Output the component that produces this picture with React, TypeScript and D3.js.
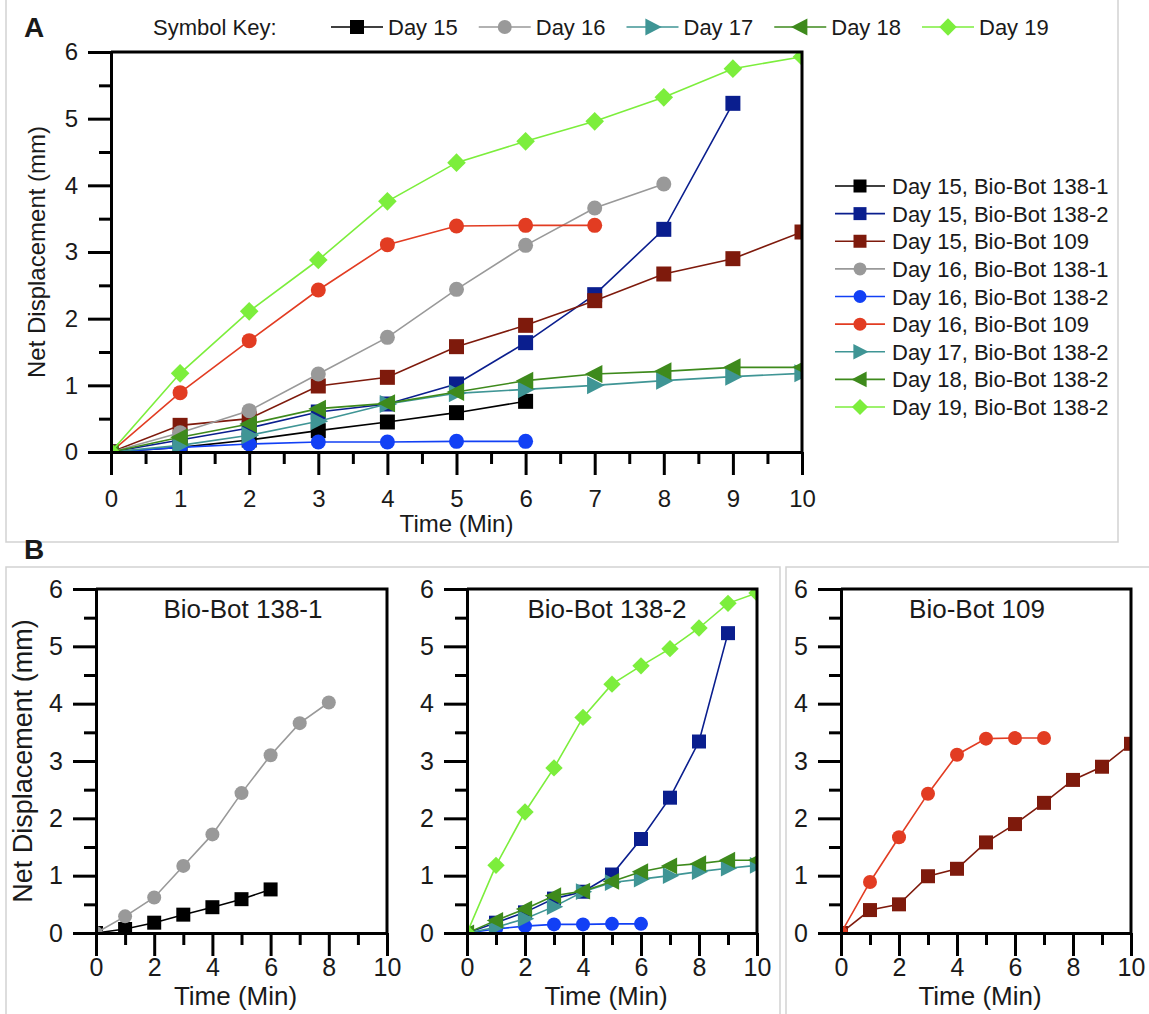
import { useRef, useEffect } from 'react';
import * as d3 from 'd3';

const W = 1149;
const H = 1014;
const FONT = '"Liberation Sans", Arial, Helvetica, sans-serif';
const INK = '#1a1a1a';

// time points (min)
const minutes = [0, 1, 2, 3, 4, 5, 6, 7, 8, 9, 10];

// net displacement (mm)
const day15Bot1381 = [0, 0.07, 0.18, 0.32, 0.45, 0.59, 0.76];
const day15Bot1382 = [0, 0.18, 0.36, 0.6, 0.72, 1.02, 1.64, 2.36, 3.34, 5.23];
const day15Bot109 = [0, 0.4, 0.5, 0.99, 1.12, 1.58, 1.9, 2.27, 2.67, 2.9, 3.3];
const day16Bot1381 = [0, 0.29, 0.62, 1.17, 1.72, 2.44, 3.1, 3.66, 4.02];
const day16Bot1382 = [0, 0.07, 0.12, 0.15, 0.15, 0.16, 0.16];
const day16Bot109 = [0, 0.89, 1.67, 2.43, 3.11, 3.39, 3.4, 3.4];
const day17Bot1382 = [0, 0.1, 0.25, 0.46, 0.72, 0.88, 0.94, 1.0, 1.07, 1.13, 1.18];
const day18Bot1382 = [0, 0.22, 0.42, 0.65, 0.73, 0.9, 1.07, 1.17, 1.21, 1.27, 1.27];
const day19Bot1382 = [0, 1.18, 2.11, 2.88, 3.76, 4.34, 4.66, 4.96, 5.32, 5.75, 5.93];

const days = ['Day 15', 'Day 16', 'Day 17', 'Day 18', 'Day 19'];
const dayColors = ['#000000', '#999999', '#3f9595', '#3e8a1c', '#7cee3c'];
const dayShapes = ['square', 'circle', 'triRight', 'triLeft', 'diamond'];

const series = [
    { label: 'Day 15, Bio-Bot 138-1', values: day15Bot1381, color: '#000000', shape: 'square', bot: '138-1' },
    { label: 'Day 15, Bio-Bot 138-2', values: day15Bot1382, color: '#0a1e8e', shape: 'square', bot: '138-2' },
    { label: 'Day 15, Bio-Bot 109', values: day15Bot109, color: '#7e1a0c', shape: 'square', bot: '109' },
    { label: 'Day 16, Bio-Bot 138-1', values: day16Bot1381, color: '#999999', shape: 'circle', bot: '138-1' },
    { label: 'Day 16, Bio-Bot 138-2', values: day16Bot1382, color: '#1240f5', shape: 'circle', bot: '138-2' },
    { label: 'Day 16, Bio-Bot 109', values: day16Bot109, color: '#e23c22', shape: 'circle', bot: '109' },
    { label: 'Day 17, Bio-Bot 138-2', values: day17Bot1382, color: '#3f9595', shape: 'triRight', bot: '138-2' },
    { label: 'Day 18, Bio-Bot 138-2', values: day18Bot1382, color: '#3e8a1c', shape: 'triLeft', bot: '138-2' },
    { label: 'Day 19, Bio-Bot 138-2', values: day19Bot1382, color: '#7cee3c', shape: 'diamond', bot: '138-2' },
];

const panelsB = [
    { bot: '138-1', title: 'Bio-Bot 138-1', left: 96, right: 387, titleX: 243, yLabel: true },
    { bot: '138-2', title: 'Bio-Bot 138-2', left: 467, right: 757, titleX: 607, yLabel: false },
    { bot: '109', title: 'Bio-Bot 109', left: 841, right: 1131, titleX: 977, yLabel: false },
];

const markerPath = (shape, s) => {
    const h = s / 2;
    if (shape === 'square') return `M${-h},${-h}h${s}v${s}h${-s}Z`;
    if (shape === 'circle') return d3.symbol(d3.symbolCircle, Math.PI * h * h)();
    if (shape === 'diamond') {
        const r = s * 0.62;
        return `M0,${-r}L${r},0L0,${r}L${-r},0Z`;
    }
    // triangles drawn a bit larger, as in the original
    const t = h * 1.2;
    if (shape === 'triRight') return `M${-t * 0.85},${-t}L${t * 1.1},0L${-t * 0.85},${t}Z`;
    return `M${t * 0.85},${-t}L${-t * 1.1},0L${t * 0.85},${t}Z`;
};

const drawPanel = (svg, id, p, list, opt) => {
    const x = d3.scaleLinear().domain([0, 10]).range([p.left, p.right]);
    const y = d3.scaleLinear().domain([0, 6]).range([p.bottom, p.top]);

    svg.append('clipPath').attr('id', id)
        .append('rect')
        .attr('x', p.left).attr('y', p.top)
        .attr('width', p.right - p.left).attr('height', p.bottom - p.top);

    const plot = svg.append('g').attr('clip-path', `url(#${id})`);
    const line = d3.line().x(d => x(d[0])).y(d => y(d[1]));

    list.forEach(s => {
        const pts = s.values.map((v, i) => [minutes[i], v]);
        plot.append('path')
            .attr('d', line(pts))
            .attr('fill', 'none')
            .attr('stroke', s.color)
            .attr('stroke-width', 1.6);
        plot.selectAll(null)
            .data(pts)
            .enter()
            .append('path')
            .attr('transform', d => `translate(${x(d[0])},${y(d[1])})`)
            .attr('d', markerPath(s.shape, opt.marker))
            .attr('fill', s.color);
    });

    // frame (top + right)
    svg.append('path')
        .attr('d', `M${p.left},${p.top}H${p.right}V${p.bottom}`)
        .attr('fill', 'none').attr('stroke', '#000').attr('stroke-width', 3);

    const styleAxis = g => {
        g.select('.domain').attr('stroke', '#000').attr('stroke-width', 3);
        g.selectAll('.tick line').attr('stroke', '#000').attr('stroke-width', 3);
        g.selectAll('.tick text')
            .attr('fill', INK)
            .style('font-family', FONT)
            .style('font-size', `${opt.tickFont}px`);
    };

    const xAxisMinor = svg.append('g').attr('transform', `translate(0,${p.bottom})`)
        .call(d3.axisBottom(x).tickValues(opt.xMinor).tickSize(12).tickSizeOuter(0).tickFormat(() => ''));
    styleAxis(xAxisMinor);
    const xAxis = svg.append('g').attr('transform', `translate(0,${p.bottom})`)
        .call(d3.axisBottom(x).tickValues(opt.xMajor).tickSize(23).tickSizeOuter(0).tickPadding(opt.xPad).tickFormat(d3.format('d')));
    styleAxis(xAxis);

    const yAxisMinor = svg.append('g').attr('transform', `translate(${p.left},0)`)
        .call(d3.axisLeft(y).tickValues([0.5, 1.5, 2.5, 3.5, 4.5, 5.5]).tickSize(12).tickSizeOuter(0).tickFormat(() => ''));
    styleAxis(yAxisMinor);
    const yAxis = svg.append('g').attr('transform', `translate(${p.left},0)`)
        .call(d3.axisLeft(y).tickValues([0, 1, 2, 3, 4, 5, 6]).tickSize(23).tickSizeOuter(0).tickPadding(opt.yPad).tickFormat(d3.format('d')));
    styleAxis(yAxis);

    const text = (t, xx, yy, size, anchor = 'middle', rotate = false) => {
        const el = svg.append('text')
            .attr('x', rotate ? 0 : xx).attr('y', rotate ? 0 : yy)
            .attr('text-anchor', anchor)
            .attr('fill', INK)
            .style('font-family', FONT)
            .style('font-size', `${size}px`)
            .text(t);
        if (rotate) el.attr('transform', `translate(${xx},${yy}) rotate(-90)`);
        return el;
    };

    text('Time (Min)', opt.xTitleX ?? (p.left + p.right) / 2, opt.xTitleY, opt.titleFont);
    if (opt.yTitleX) text('Net Displacement (mm)', opt.yTitleX, (p.top + p.bottom) / 2, opt.yTitleFont ?? opt.titleFont, 'middle', true);
    if (opt.title) text(opt.title, opt.titleX, p.top + 29, opt.titleFont);
};

const App = () => {
    const ref = useRef(null);

    useEffect(() => {
        if (!ref.current) return;
        const svg = d3.select(ref.current);
        svg.selectAll('*').remove();

        svg.append('rect').attr('width', W).attr('height', H).attr('fill', '#fff');

        // light panel borders
        const box = (x0, y0, x1, y1) => svg.append('rect')
            .attr('x', x0).attr('y', y0).attr('width', x1 - x0).attr('height', y1 - y0)
            .attr('fill', 'none').attr('stroke', '#d2d2d2').attr('stroke-width', 1.5);
        box(6, -2, 1118, 542);
        box(6, 567, 780, H + 2);
        box(786, 567, W + 2, H + 2);

        // panel letters
        svg.append('text').attr('x', 24).attr('y', 37).text('A')
            .style('font-family', FONT).style('font-size', '28px').style('font-weight', 'bold').attr('fill', INK);
        svg.append('text').attr('x', 24).attr('y', 559).text('B')
            .style('font-family', FONT).style('font-size', '28px').style('font-weight', 'bold').attr('fill', INK);

        // panel A
        drawPanel(svg, 'clipA', { left: 111, right: 802, top: 52, bottom: 452 }, series, {
            marker: 15, tickFont: 24, titleFont: 24,
            xMajor: minutes, xMinor: minutes.slice(0, 10).map(d => d + 0.5),
            xPad: 15, yPad: 10, xTitleY: 532, yTitleX: 45,
        });

        // symbol key
        const keyY = 27;
        svg.append('text').attr('x', 153).attr('y', keyY + 8).text('Symbol Key:')
            .style('font-family', FONT).style('font-size', '22px').attr('fill', INK);
        const keyX = d3.scalePoint().domain(days).range([331, 922]);
        days.forEach((d, i) => {
            const x0 = keyX(d);
            svg.append('line').attr('x1', x0).attr('x2', x0 + 52).attr('y1', keyY).attr('y2', keyY)
                .attr('stroke', dayColors[i]).attr('stroke-width', 1.6);
            svg.append('path').attr('transform', `translate(${x0 + 26},${keyY})`)
                .attr('d', markerPath(dayShapes[i], 14)).attr('fill', dayColors[i]);
            svg.append('text').attr('x', x0 + 57).attr('y', keyY + 8).text(d)
                .style('font-family', FONT).style('font-size', '22px').attr('fill', INK);
        });

        // series legend
        const legY = d3.scalePoint().domain(series.map(s => s.label)).range([186, 407]);
        series.forEach(s => {
            const yy = legY(s.label);
            svg.append('line').attr('x1', 835).attr('x2', 885).attr('y1', yy).attr('y2', yy)
                .attr('stroke', s.color).attr('stroke-width', 1.6);
            svg.append('path').attr('transform', `translate(860,${yy})`)
                .attr('d', markerPath(s.shape, 13)).attr('fill', s.color);
            svg.append('text').attr('x', 892).attr('y', yy + 8).text(s.label)
                .style('font-family', FONT).style('font-size', '22px').attr('fill', INK);
        });

        // panel B
        panelsB.forEach((pb, i) => {
            drawPanel(svg, `clipB${i}`, { left: pb.left, right: pb.right, top: 589, bottom: 933 },
                series.filter(s => s.bot === pb.bot), {
                    marker: 14, tickFont: 25, titleFont: 26, yTitleFont: 27,
                    xMajor: [0, 2, 4, 6, 8, 10], xMinor: [1, 3, 5, 7, 9],
                    xPad: 2, yPad: 10, xTitleY: 1005, xTitleX: (pb.left + pb.right) / 2 - 6,
                    yTitleX: pb.yLabel ? 32 : null, title: pb.title, titleX: pb.titleX,
                });
        });
    }, []);

    return (
        <svg
            ref={ref}
            width={W}
            height={H}
            style={{ position: 'absolute', left: 0, top: 0 }}
        ></svg>
    );
};

export default App;
